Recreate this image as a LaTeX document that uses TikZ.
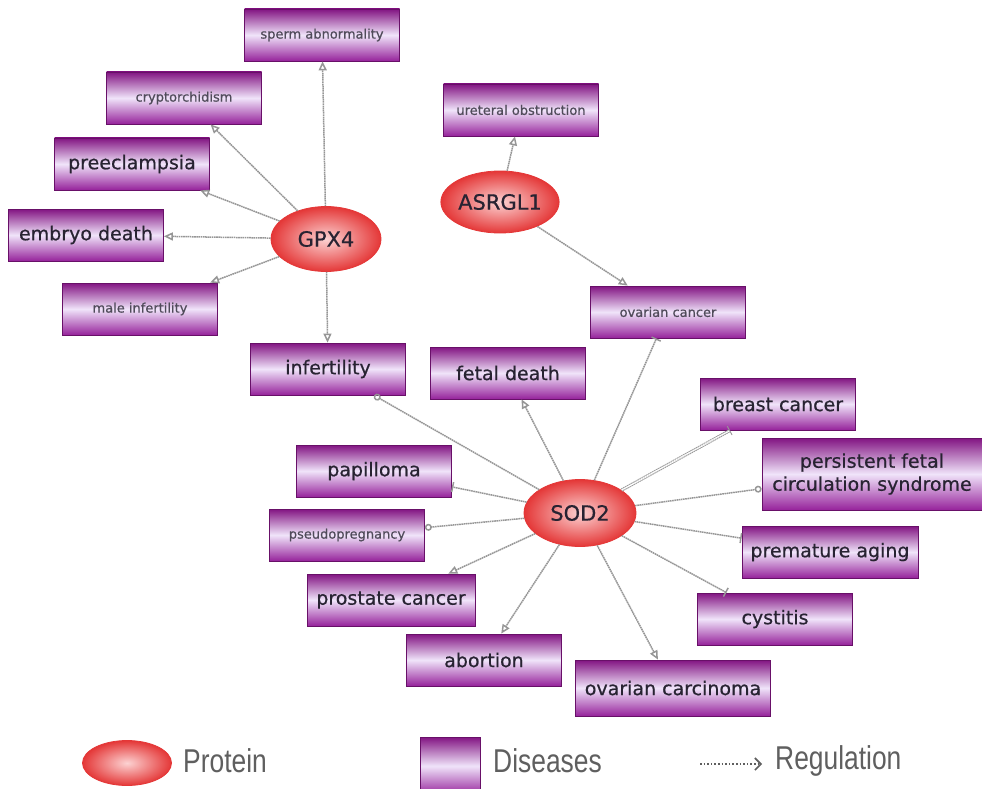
\documentclass[tikz,border=0pt]{standalone}
\usepackage{fontspec}
\setmainfont{DejaVu Sans}[FakeBold=0.6]
\newfontfamily\legfont[FakeStretch=0.8]{Liberation Sans}
\usetikzlibrary{shapes.geometric,arrows.meta}
\definecolor{pdark}{RGB}{130,20,130}
\definecolor{pbot}{RGB}{150,35,155}
\definecolor{plight}{RGB}{240,228,250}
\definecolor{redE}{RGB}{228,55,55}
\definecolor{redIn}{RGB}{252,210,210}
\definecolor{edgec}{RGB}{150,150,150}
\definecolor{txt}{RGB}{40,35,50}
\definecolor{smalltxt}{RGB}{80,75,90}
\definecolor{legtxt}{RGB}{95,95,95}
\tikzset{
 disease/.style={rectangle, draw=pdark!80!black, line width=0.8pt, top color=pdark, bottom color=pbot, middle color=plight, minimum width=155pt, minimum height=52pt, inner sep=0pt, text=txt, font=\fontsize{19}{23}\selectfont},
 small/.style={font=\fontsize{13}{15}\selectfont, text=smalltxt},
 protein/.style={ellipse, draw=redE, line width=0.8pt, inner color=redIn, outer color=redE, minimum width=110pt, minimum height=65pt, inner sep=0pt, font=\fontsize{21}{24}\selectfont, text=txt},
 edge/.style={draw=edgec, line width=1.5pt, dash pattern=on 1.6pt off 0.6pt},
 tri/.style={-{Triangle[open,length=9pt,width=8pt]}},
 bartip/.style={-{Bar[width=10pt]}},
 circ/.style={-{Circle[open,length=7pt]}},
 legtext/.style={anchor=west, inner sep=0pt, text=legtxt, font=\legfont\fontsize{33}{36}\selectfont},
}
\begin{document}
\begin{tikzpicture}[x=1pt,y=-1pt]
\useasboundingbox (0,0) rectangle (982,789);
% proteins
\node[protein] (gpx4) at (326,239) {GPX4};
\node[protein, minimum height=62pt] (asrgl1) at (500,202) {ASRGL1};
\node[protein, minimum width=112pt, minimum height=67pt] (sod2) at (580,513) {SOD2};
% GPX4 diseases
\node[disease, small] (sperm) at (322,35) {sperm abnormality};
\node[disease, small] (crypt) at (184,98) {cryptorchidism};
\node[disease] (preec) at (132,164) {preeclampsia};
\node[disease] (embryo) at (86,235) {embryo death};
\node[disease, small] (male) at (140,309) {male infertility};
\node[disease] (infert) at (328,369) {infertility};
% ASRGL1 diseases
\node[disease, small] (uret) at (521,110) {ureteral obstruction};
\node[disease, small] (ovcan) at (668,312) {ovarian cancer};
% SOD2 diseases
\node[disease] (fetal) at (508,373) {fetal death};
\node[disease] (breast) at (778,404) {breast cancer};
\node[disease, minimum width=220pt, minimum height=72pt, align=center] (persist) at (872,474) {persistent fetal\\circulation syndrome};
\node[disease] (papil) at (374,471) {papilloma};
\node[disease, small] (pseudo) at (347,535) {pseudopregnancy};
\node[disease, minimum width=176pt] (prem) at (830,552) {premature aging};
\node[disease, minimum width=168pt] (prost) at (391,600) {prostate cancer};
\node[disease] (cyst) at (775,619) {cystitis};
\node[disease] (abort) at (484,660) {abortion};
\node[disease, minimum width=195pt, minimum height=56pt] (ovcarc) at (673,688) {ovarian carcinoma};
% GPX4 edges
\draw[edge, tri] (gpx4) -- (sperm);
\draw[edge, tri] (gpx4) -- (crypt);
\draw[edge, tri] (gpx4) -- (preec);
\draw[edge, tri] (gpx4) -- (embryo);
\draw[edge, tri] (gpx4) -- (male);
\draw[edge, tri] (gpx4) -- (infert);
% ASRGL1 edges
\draw[edge, tri] (asrgl1) -- (uret);
\draw[edge, tri] (asrgl1) -- (ovcan);
% SOD2 edges
\draw[edge, circ] (sod2) -- (infert);
\draw[edge, tri] (sod2) -- (fetal);
\draw[edge, bartip] (sod2) -- (ovcan);
\draw[edge, bartip, double=white, double distance=1.4pt, line width=0.9pt] (sod2) -- (breast);
\draw[edge, circ] (sod2) -- (persist);
\draw[edge, bartip] (sod2) -- (prem);
\draw[edge, bartip] (sod2) -- (cyst);
\draw[edge, tri] (sod2) -- (ovcarc);
\draw[edge, tri] (sod2) -- (abort);
\draw[edge, tri] (sod2) -- (prost);
\draw[edge, circ] (sod2) -- (pseudo);
\draw[edge, bartip] (sod2) -- (papil);
% legend
\node[protein, minimum width=89pt, minimum height=45pt] (legp) at (127,763) {};
\node[legtext] (legpt) at (183,761) {Protein};
\node[disease, minimum width=60pt, minimum height=58pt] (legd) at (450,766) {};
\node[legtext] (legdt) at (493,761) {Diseases};
\coordinate (r1) at (700,764);
\coordinate (r2) at (762,764);
\draw[draw=legtxt, line width=1.6pt, dotted, -{Straight Barb[length=6pt,width=12pt]}] (r1) -- (r2);
\node[legtext] (legrt) at (775,761) {Regulation};
\end{tikzpicture}
\end{document}
